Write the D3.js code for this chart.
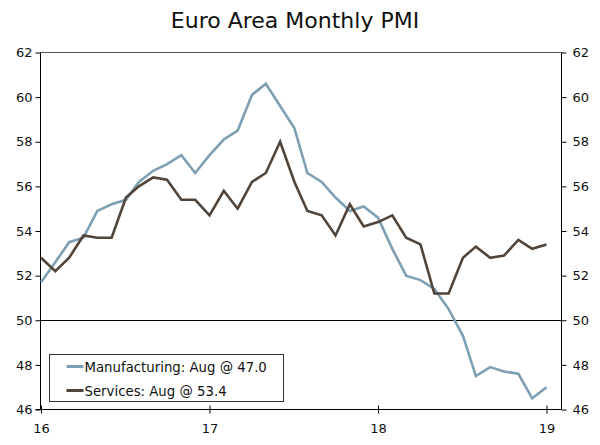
<!DOCTYPE html>
<html>
<head>
<meta charset="utf-8">
<script src="https://cdn.jsdelivr.net/npm/d3@7"></script>
<style>
  body { margin: 0; background: #fff; }
  text { font-family: "DejaVu Sans", Verdana, sans-serif; }
</style>
</head>
<body>
<svg id="chart" width="600" height="445"></svg>
<script>
// monthly data, Aug 2016 .. Aug 2019
const months = [
  "2016-08", "2016-09", "2016-10", "2016-11", "2016-12",
  "2017-01", "2017-02", "2017-03", "2017-04", "2017-05", "2017-06",
  "2017-07", "2017-08", "2017-09", "2017-10", "2017-11", "2017-12",
  "2018-01", "2018-02", "2018-03", "2018-04", "2018-05", "2018-06",
  "2018-07", "2018-08", "2018-09", "2018-10", "2018-11", "2018-12",
  "2019-01", "2019-02", "2019-03", "2019-04", "2019-05", "2019-06",
  "2019-07", "2019-08"
];
const manufacturing = [
  51.7, 52.6, 53.5, 53.7, 54.9,
  55.2, 55.4, 56.2, 56.7, 57.0, 57.4,
  56.6, 57.4, 58.1, 58.5, 60.1, 60.6,
  59.6, 58.6, 56.6, 56.2, 55.5, 54.9,
  55.1, 54.6, 53.2, 52.0, 51.8, 51.4,
  50.5, 49.3, 47.5, 47.9, 47.7, 47.6,
  46.5, 47.0
];
const services = [
  52.8, 52.2, 52.8, 53.8, 53.7,
  53.7, 55.5, 56.0, 56.4, 56.3, 55.4,
  55.4, 54.7, 55.8, 55.0, 56.2, 56.6,
  58.0, 56.2, 54.9, 54.7, 53.8, 55.2,
  54.2, 54.4, 54.7, 53.7, 53.4, 51.2,
  51.2, 52.8, 53.3, 52.8, 52.9, 53.6,
  53.2, 53.4
];
const yTicks = [46, 48, 50, 52, 54, 56, 58, 60, 62];
const xTicks = ["2016-08", "2017-08", "2018-08", "2019-08"];
const xTickLabels = ["16", "17", "18", "19"];
const legendLabels = ["Manufacturing: Aug @ 47.0", "Services: Aug @ 53.4"];

const colors = ["#7f9fb2", "#51443a"];

const parse = d3.timeParse("%Y-%m");
const dates = months.map(parse);

const svg = d3.select("#chart");

// plot box
const boxL = 40.5, boxR = 561.5, boxT = 52.5, boxB = 409.5;

const x = d3.scaleTime()
  .domain([dates[0], dates[dates.length - 1]])
  .range([41, 546.5]);

const y = d3.scaleLinear()
  .domain([46, 62])
  .range([boxB, boxT]);

// title
svg.append("text")
  .attr("x", 295)
  .attr("y", 28)
  .attr("text-anchor", "middle")
  .style("font-size", "22px")
  .style("fill", "#111")
  .text("Euro Area Monthly PMI");

// top border
svg.append("line")
  .attr("x1", boxL).attr("x2", boxR)
  .attr("y1", boxT).attr("y2", boxT)
  .attr("stroke", "#555").attr("stroke-width", 1);

// 50 line
svg.append("line")
  .attr("x1", boxL).attr("x2", boxR)
  .attr("y1", Math.round(y(50)) + 0.5).attr("y2", Math.round(y(50)) + 0.5)
  .attr("stroke", "#000").attr("stroke-width", 1);

const yLeft = d3.axisLeft(y).tickValues(yTicks).tickSize(5).tickPadding(3);
const yRight = d3.axisRight(y).tickValues(yTicks).tickSize(5).tickPadding(6);

const gl = svg.append("g")
  .attr("transform", `translate(${boxL},0)`)
  .call(yLeft);
const gr = svg.append("g")
  .attr("transform", `translate(${boxR},0)`)
  .call(yRight);

const xAxis = d3.axisBottom(x)
  .tickValues(xTicks.map(parse))
  .tickFormat((d, i) => xTickLabels[i])
  .tickSize(4)
  .tickPadding(10);

const gx = svg.append("g")
  .attr("transform", `translate(0,${boxB})`)
  .call(xAxis);
// x ticks cross the axis line
gx.selectAll(".tick line").attr("y1", -4);

[gl, gr, gx].forEach(g => {
  g.select(".domain").attr("stroke", "#000");
  g.selectAll(".tick line").attr("stroke", "#000");
  g.selectAll(".tick text")
    .style("font-size", "13px")
    .style("font-family", "'DejaVu Sans', Verdana, sans-serif")
    .attr("fill", "#111");
});
gl.select(".domain").attr("d", `M0,${boxT}V${boxB}`);
gr.select(".domain").attr("d", `M0,${boxT}V${boxB}`);
gx.select(".domain").attr("d", `M${boxL - 5},0H${boxR}`);

// lines
const line = d3.line()
  .x((d, i) => x(dates[i]))
  .y(d => y(d));

[manufacturing, services].forEach((s, k) => {
  svg.append("path")
    .datum(s)
    .attr("fill", "none")
    .attr("stroke", colors[k])
    .attr("stroke-width", 2.6)
    .attr("stroke-linejoin", "miter")
    .attr("d", line);
});

// legend
const lg = svg.append("g").attr("transform", "translate(49.5,354.5)");
lg.append("rect")
  .attr("width", 234).attr("height", 47)
  .attr("fill", "#fff")
  .attr("stroke", "#333");

legendLabels.forEach((t, i) => {
  const yy = 12 + i * 24;
  lg.append("line")
    .attr("x1", 17).attr("x2", 34)
    .attr("y1", yy).attr("y2", yy)
    .attr("stroke", colors[i])
    .attr("stroke-width", 3);
  lg.append("text")
    .attr("x", 35)
    .attr("y", yy + 5)
    .style("font-size", "13.3px")
    .style("fill", "#111")
    .text(t);
});
</script>
</body>
</html>
